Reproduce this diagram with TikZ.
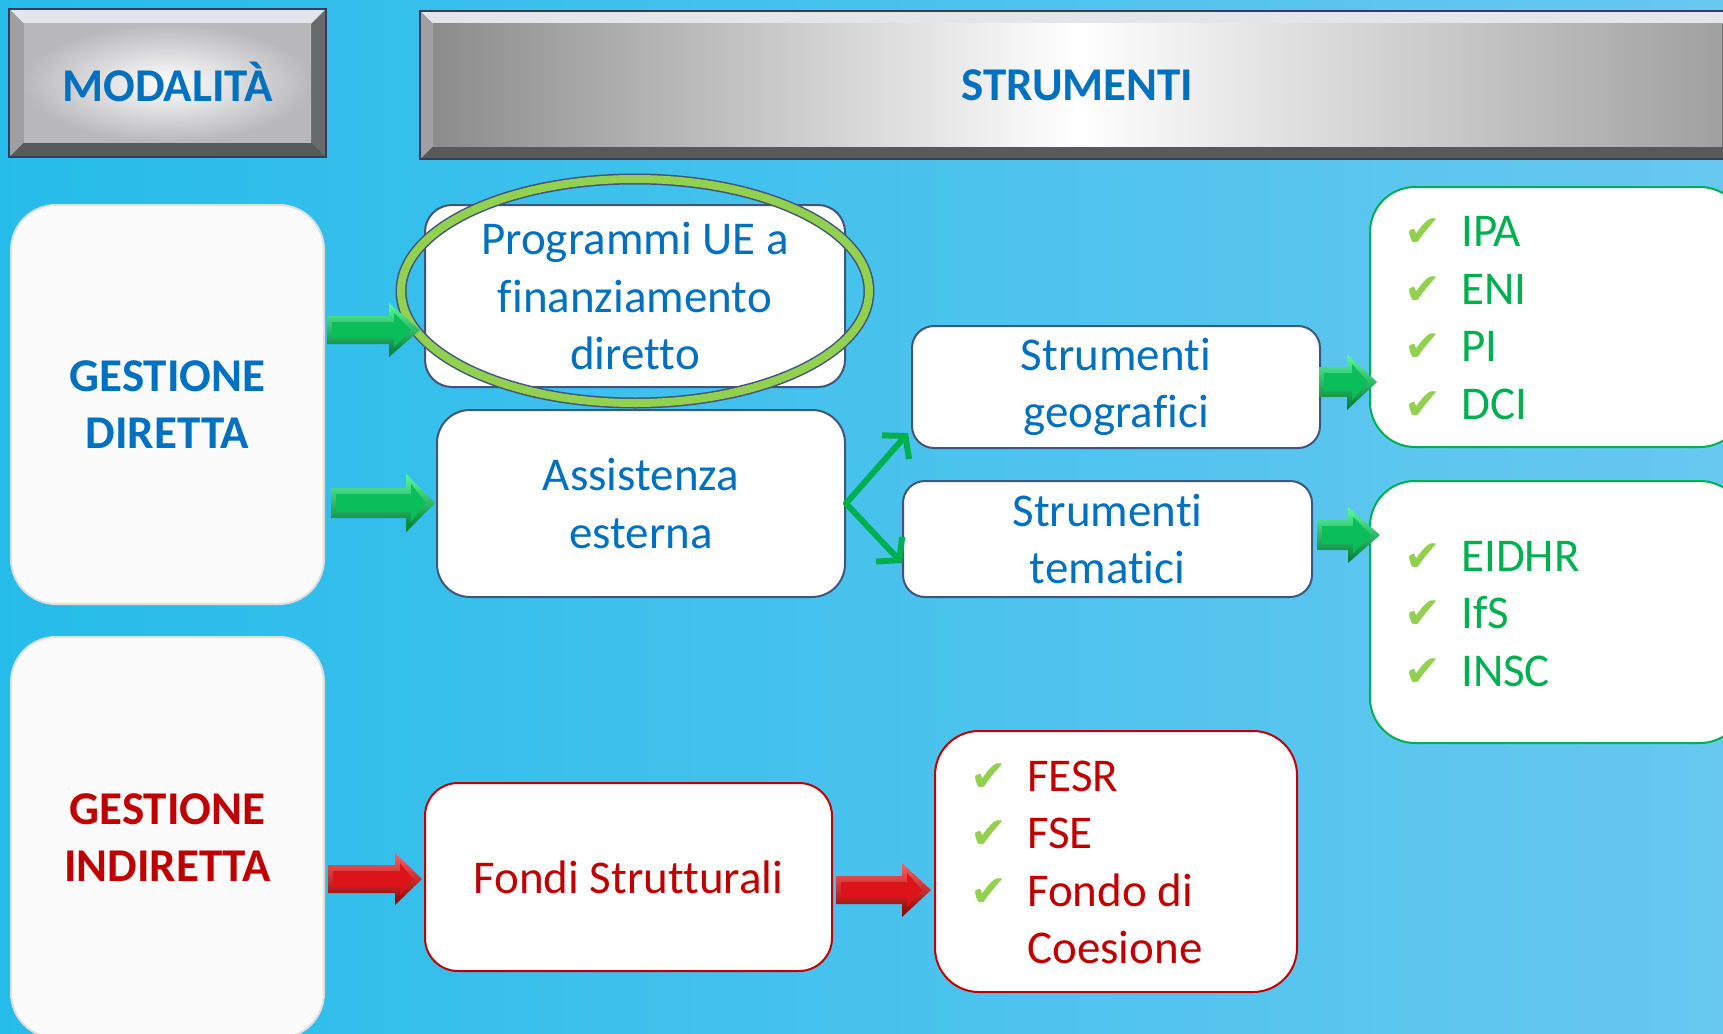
\documentclass[tikz,border=0pt]{standalone}
\usepackage{fontspec}
\setmainfont{Carlito}[Ligatures=NoCommon]
\newfontfamily\dejavu{DejaVu Sans}
\usetikzlibrary{calc,arrows.meta}
\definecolor{bgl}{RGB}{38,188,234}
\definecolor{bgr}{RGB}{104,200,240}
\definecolor{uniblue}{RGB}{0,112,192}
\definecolor{lgreen}{RGB}{0,176,80}
\definecolor{ckgreen}{RGB}{146,208,80}
\definecolor{dred}{RGB}{192,0,0}
\definecolor{slate}{RGB}{65,85,122}
\definecolor{bevborder}{RGB}{50,62,90}
\definecolor{bevtopc}{RGB}{228,228,236}
\definecolor{bevleftc}{RGB}{160,160,162}
\definecolor{bevrightc}{RGB}{105,106,106}
\definecolor{bevbotc}{RGB}{88,90,90}
\definecolor{facegrey}{RGB}{140,140,140}
\definecolor{facegreyr}{RGB}{160,160,160}
\definecolor{faceedge}{RGB}{185,185,188}
\definecolor{gface}{RGB}{251,251,251}
\definecolor{mint}{RGB}{90,250,160}
\definecolor{midgreen}{RGB}{0,178,80}
\definecolor{facegreen}{RGB}{10,190,90}
\definecolor{dgreen}{RGB}{0,120,50}
\definecolor{lred}{RGB}{255,95,95}
\definecolor{midred}{RGB}{215,15,15}
\definecolor{facered}{RGB}{220,20,25}
\definecolor{ddred}{RGB}{140,0,0}

\newcommand\bevelfill[2]{%
  \coordinate (pA) at (path picture bounding box.north west);
  \coordinate (pC) at (path picture bounding box.south east);
  \coordinate (pB) at (pA -| pC);
  \coordinate (pD) at (pA |- pC);
  \fill[bevtopc] (pA) -- (pB) -- ($(pB)+(-#2,#2)$) -- ($(pA)+(#2,#2)$) -- cycle;
  \fill[bevrightc] (pB) -- (pC) -- ($(pC)+(-#2,-#2)$) -- ($(pB)+(-#2,#2)$) -- cycle;
  \fill[bevbotc] (pC) -- (pD) -- ($(pD)+(#2,-#2)$) -- ($(pC)+(-#2,-#2)$) -- cycle;
  \fill[bevleftc] (pD) -- (pA) -- ($(pA)+(#2,#2)$) -- ($(pD)+(#2,-#2)$) -- cycle;
  \shade[#1] ($(pA)+(#2,#2)$) rectangle ($(pC)+(-#2,-#2)$);
}
% #1 shading, #2 face colour, #3 start, #4 end, #5 head length, #6 head half, #7 shaft half
\newcommand\blockarr[7]{%
  \shade[#1] let \p1=(#3), \p2=(#4) in
    (\x1,\y1+#7) -- (\x2-#5,\y1+#7) -- (\x2-#5,\y1+#6) -- (\x2,\y1)
    -- (\x2-#5,\y1-#6) -- (\x2-#5,\y1-#7) -- (\x1,\y1-#7) -- cycle;
  \fill[#2] let \p1=(#3), \p2=(#4) in
    (\x1+5pt,\y1+#7-6pt) -- (\x2-#5+5pt,\y1+#7-6pt) -- (\x2-#5+5pt,\y1+#6-10pt) -- (\x2-9pt,\y1)
    -- (\x2-#5+5pt,\y1-#6+10pt) -- (\x2-#5+5pt,\y1-#7+6pt) -- (\x1+5pt,\y1-#7+6pt) -- cycle;
}
\newcommand\ck{\makebox[57pt][l]{\textcolor{ckgreen}{\dejavu\fontsize{44}{44}\selectfont ✔}}}
\newcommand\nock{\makebox[57pt][l]{}}

\begin{document}
\begin{tikzpicture}[x=1pt,y=-1pt,
  bevel/.style={draw=bevborder, line width=2pt, inner sep=0pt, text=uniblue,
    font=\bfseries\fontsize{47}{57.5}\selectfont},
  gbox/.style={rounded corners=45pt, fill=gface, draw=gray!25, line width=2pt,
    inner sep=0pt, align=center, font=\bfseries\fontsize{47}{57.5}\selectfont},
  bbox/.style={rounded corners=#1, fill=white, draw=slate, line width=2pt,
    text=uniblue, inner sep=0pt, align=center, font=\fontsize{47}{57.5}\selectfont},
  grbox/.style={rounded corners=45pt, fill=white, draw=lgreen, line width=2pt, inner sep=0pt},
  rbox/.style={rounded corners=#1, fill=white, draw=dred, line width=2pt,
    text=dred, inner sep=0pt, align=center, font=\fontsize{47}{57.5}\selectfont},
  lst/.style={align=left, inner sep=0pt, font=\fontsize{47}{57.5}\selectfont},
  gshade/.style={top color=mint, bottom color=dgreen},
  rshade/.style={top color=lred, bottom color=ddred},
  thinarr/.style={draw=lgreen, line width=6pt, line cap=round,
    -{Straight Barb[length=15pt,width=36pt]}},
]
\clip (0,0) rectangle (1723,1033);
\shade[left color=bgl, right color=bgr] (0,0) rectangle (1723,1033);

% headers
\node[bevel, minimum width=317pt, minimum height=148pt,
  path picture={\bevelfill{inner color=white, outer color=faceedge}{15}}]
  (modal) at (167.5,83) {\raisebox{3pt}{MODALITÀ}};
\node[bevel, minimum width=1315pt, minimum height=148pt,
  path picture={\bevelfill{left color=facegrey, right color=facegreyr, middle color=white}{13}}]
  (strum) at (1077.5,85) {STRUMENTI};

% left column
\node[gbox, text=uniblue, minimum width=313pt, minimum height=399pt]
  (gdir) at (167.5,404.5) {GESTIONE\\DIRETTA};
\node[gbox, text=dred, minimum width=313pt, minimum height=401pt]
  (gind) at (167.5,837.5) {GESTIONE\\INDIRETTA};

% blue boxes
\node[bbox=27pt, minimum width=420pt, minimum height=182pt]
  (prog) at (635,296) {Programmi UE a\\finanziamento\\diretto};
\node[bbox=33pt, minimum width=408pt, minimum height=187pt]
  (assist) at (641,503.5) {Assistenza\\esterna};
\node[bbox=22pt, minimum width=408pt, minimum height=122pt]
  (geo) at (1116,387) {Strumenti\\geografici};
\node[bbox=22pt, minimum width=409pt, minimum height=116pt]
  (tem) at (1107.5,539) {Strumenti\\tematici};

% green list boxes
\node[grbox, minimum width=375pt, minimum height=260pt] (ipabox) at (1557.5,317) {};
\node[grbox, minimum width=375pt, minimum height=262pt] (eidbox) at (1557.5,612) {};
\node[lst, text=lgreen, anchor=west] (ipalist) at ([xshift=35pt,yshift=-1pt]ipabox.west)
  {\ck IPA\\\ck ENI\\\ck PI\\\ck DCI};
\node[lst, text=lgreen, anchor=west] (eidlist) at ([xshift=35pt,yshift=-2pt]eidbox.west)
  {\ck EIDHR\\\ck IfS\\\ck INSC};

% red boxes
\node[rbox=33pt, minimum width=407pt, minimum height=188pt]
  (fondi) at (628.5,877) {Fondi Strutturali};
\node[rbox=44pt, minimum width=362pt, minimum height=261pt] (fesr) at (1116,861.5) {};
\node[lst, text=dred, anchor=west] (fesrlist) at ([xshift=36pt,yshift=-1pt]fesr.west)
  {\ck FESR\\\ck FSE\\\ck Fondo di\\\nock Coesione};

% highlight ellipse
\draw[line width=11pt, draw=slate] ([yshift=5pt]prog.center) ellipse [x radius=234pt, y radius=112pt];
\draw[line width=8pt, draw=ckgreen] ([yshift=5pt]prog.center) ellipse [x radius=234pt, y radius=112pt];

% block arrows
\blockarr{gshade}{facegreen}{[shift={(2pt,74.5pt)}]gdir.east}{[xshift=-4pt]prog.west}{31pt}{27pt}{14pt}
\blockarr{gshade}{facegreen}{[shift={(6pt,-98.5pt)}]gdir.east}{[xshift=-1pt]assist.west}{29pt}{29pt}{15pt}
\blockarr{gshade}{facegreen}{[shift={(-2pt,5pt)}]geo.east}{[xshift=8pt]ipabox.west}{30pt}{28pt}{15pt}
\blockarr{gshade}{facegreen}{[shift={(4pt,4pt)}]tem.east}{[xshift=11pt]eidbox.west}{32pt}{28pt}{15pt}
\blockarr{rshade}{facered}{[shift={(3pt,-41.5pt)}]gind.east}{[xshift=-2pt]fondi.west}{27pt}{26pt}{14pt}
\blockarr{rshade}{facered}{[shift={(3pt,-13pt)}]fondi.east}{[xshift=-3pt]fesr.west}{29pt}{27pt}{14pt}

% thin arrows
\draw[thinarr] (assist.east) -- ([shift={(-3pt,16pt)}]geo.south west);
\draw[thinarr] (assist.east) -- ([yshift=-24pt]tem.west);
\end{tikzpicture}
\end{document}
